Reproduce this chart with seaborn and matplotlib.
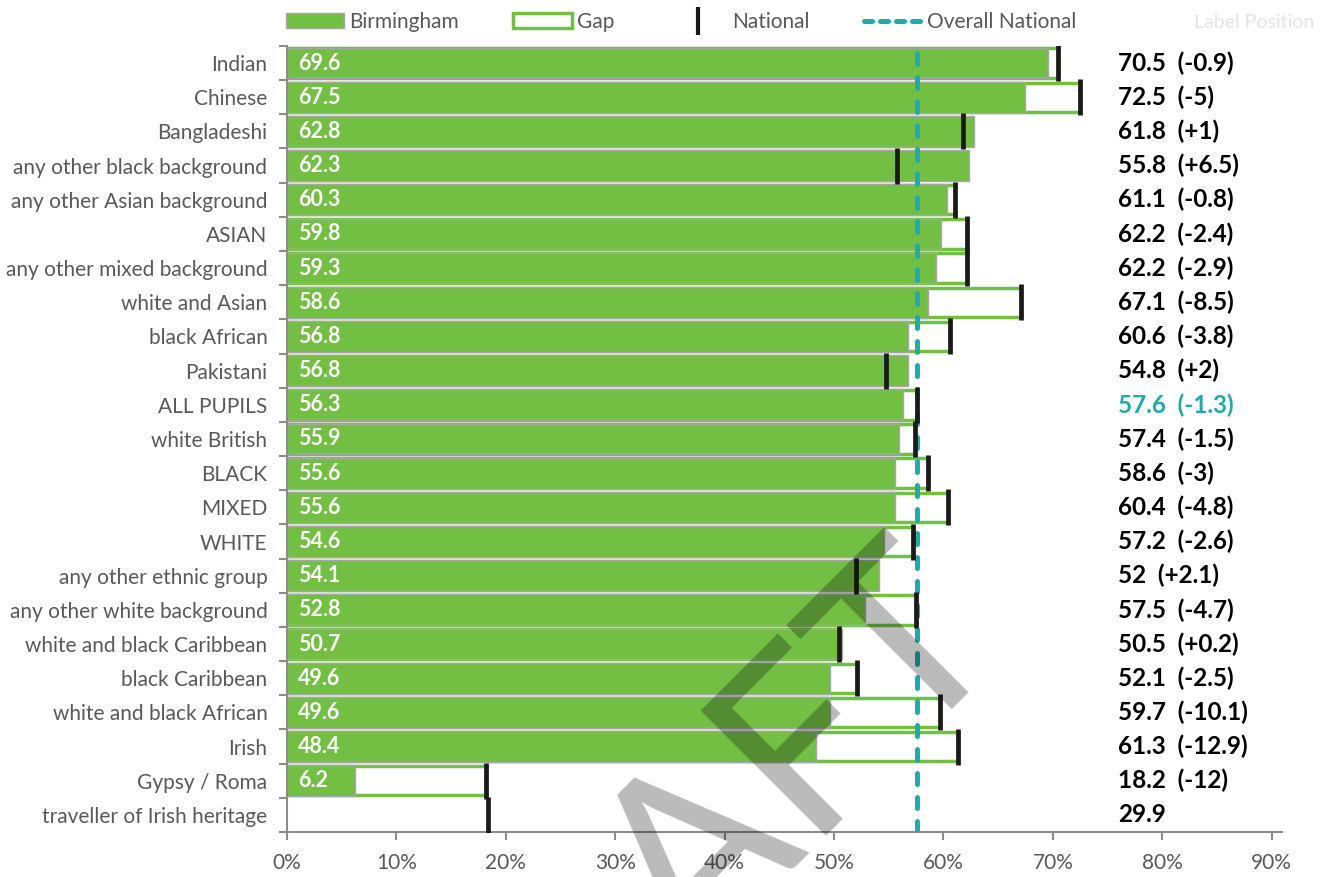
import numpy as np
import seaborn as sns
import matplotlib.pyplot as plt
from matplotlib.patches import Patch
from matplotlib.lines import Line2D

# ethnic groups, top to bottom
groups = ["Indian", "Chinese", "Bangladeshi", "any other black background",
          "any other Asian background", "ASIAN", "any other mixed background",
          "white and Asian", "black African", "Pakistani", "ALL PUPILS",
          "white British", "BLACK", "MIXED", "WHITE", "any other ethnic group",
          "any other white background", "white and black Caribbean",
          "black Caribbean", "white and black African", "Irish",
          "Gypsy / Roma", "traveller of Irish heritage"]

birmingham = [69.6, 67.5, 62.8, 62.3, 60.3, 59.8, 59.3, 58.6, 56.8, 56.8, 56.3,
              55.9, 55.6, 55.6, 54.6, 54.1, 52.8, 50.7, 49.6, 49.6, 48.4, 6.2,
              np.nan]
national = [70.5, 72.5, 61.8, 55.8, 61.1, 62.2, 62.2, 67.1, 60.6, 54.8, 57.6,
            57.4, 58.6, 60.4, 57.2, 52, 57.5, 50.5, 52.1, 59.7, 61.3, 18.2, 29.9]
# where the black national marker sits in the picture (traveller marker is off)
national_marker = [70.5, 72.5, 61.8, 55.8, 61.1, 62.2, 62.2, 67.1, 60.6, 54.8,
                   57.6, 57.4, 58.6, 60.4, 57.2, 52, 57.5, 50.5, 52.1, 59.7,
                   61.3, 18.2, 18.4]
overall_national = 57.6
label_position = 76
xticks = [0, 10, 20, 30, 40, 50, 60, 70, 80, 90]

green = "#72bf44"
teal = "#22aaaa"
grey_text = "#595959"

sns.set_style("white")
plt.rcParams["font.family"] = ["Lato", "DejaVu Sans"]

fig = plt.figure(figsize=(13.28, 8.77), dpi=100)
ax = fig.add_axes([0.216, 0.0513, 0.749, 0.8963])

# gap bar: only where Birmingham has a value
gap = [n if not np.isnan(b) else np.nan for b, n in zip(birmingham, national)]
sns.barplot(x=gap, y=groups, orient="h", color="white", edgecolor=green,
            linewidth=2.5, width=0.86, saturation=1, ax=ax, zorder=1)
sns.barplot(x=birmingham, y=groups, orient="h", color=green,
            edgecolor="#a6a6a6", linewidth=1, width=0.9, saturation=1,
            ax=ax, zorder=2)

ax.axvline(overall_national, color=teal, lw=3.6, dashes=(2.2, 2.6),
           dash_capstyle="round", zorder=3)

ypos = np.arange(len(groups))
ax.scatter(national_marker, ypos, marker="|", s=700, linewidths=3.4,
           color="#1a1a1a", zorder=4)

# value labels inside bars and national labels on the right
for i, (b, n) in enumerate(zip(birmingham, national)):
    if not np.isnan(b):
        ax.text(1, i, f"{b:g}", color="white", fontsize=15.5, fontweight="bold",
                va="center", ha="left", zorder=5)
        d = round(b - n, 1)
        txt = f"{n:g}  ({d:+g})"
    else:
        txt = f"{n:g}"
    col = teal if groups[i] == "ALL PUPILS" else "black"
    ax.text(label_position, i, txt, color=col, fontsize=17.5, fontweight="bold",
            va="center", ha="left", zorder=5)

ax.set_xlim(0, 90.9)
ax.set_ylim(len(groups) - 0.5, -0.5)
ax.set_xticks(xticks)
ax.set_xticklabels([f"{t}%" for t in xticks])
ax.set_yticks(ypos, groups)
ax.set_yticks(np.arange(len(groups) + 1) - 0.5, minor=True)
ax.set_xlabel("")
ax.set_ylabel("")

for s in ["top", "right"]:
    ax.spines[s].set_visible(False)
for s in ["left", "bottom"]:
    ax.spines[s].set_color("#8c8c8c")
    ax.spines[s].set_linewidth(1.5)

ax.tick_params(axis="x", length=6, width=1.5, color="#8c8c8c",
               labelsize=15, labelcolor=grey_text, pad=9, bottom=True)
ax.tick_params(axis="y", which="major", length=0, pad=14, labelsize=15,
               labelcolor=grey_text)
ax.tick_params(axis="y", which="minor", length=6, width=1.5, color="#8c8c8c",
               left=True)

handles = [
    Patch(facecolor=green, edgecolor="#a6a6a6", label="Birmingham"),
    Patch(facecolor="white", edgecolor=green, linewidth=2.5, label="Gap"),
    Line2D([], [], color="#1a1a1a", marker="|", ls="none", markersize=20,
           markeredgewidth=3, label="National"),
    Line2D([], [], color=teal, lw=3.6, dashes=(1.6, 1.6),
           dash_capstyle="round", label="Overall National"),
    Line2D([], [], color="none", label="Label Position"),
]
leg = fig.legend(handles=handles, loc="center left", ncol=5,
                 bbox_to_anchor=(0.209, 0.975), frameon=False, fontsize=15,
                 handlelength=2.8, handleheight=0.7, handletextpad=0.25,
                 columnspacing=2.6, borderaxespad=0)
for t in leg.get_texts():
    t.set_color(grey_text)
leg.get_texts()[-1].set_color("#e4e4e4")
leg.get_texts()[-1].set_fontsize(14)

# draft watermark
fig.text(0.5455, -0.042, "DRAFT", fontsize=178, color="black", alpha=0.27,
         rotation=45, rotation_mode="anchor", ha="center", va="baseline",
         zorder=10)

fig.savefig("out.png", dpi=100)
